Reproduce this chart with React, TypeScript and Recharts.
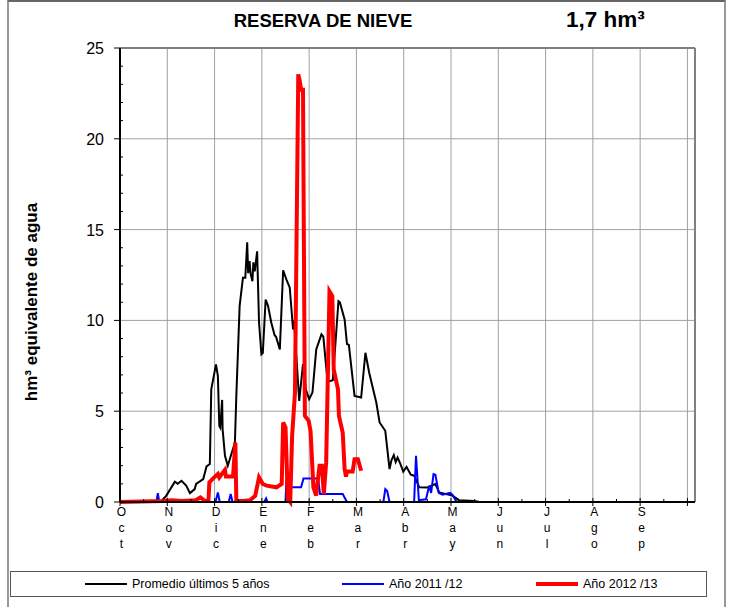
import React from "react";
import { LineChart, Line, XAxis, YAxis, CartesianGrid, ReferenceLine } from "recharts";

const meses = ["Oct", "Nov", "Dic", "Ene", "Feb", "Mar", "Abr", "May", "Jun", "Jul", "Ago", "Sep"];
const FIN = 12.16;

// x en meses desde el 1 de octubre
const promedioMes = [0, 0.86, 0.98, 1.16, 1.22, 1.3, 1.4, 1.48, 1.58, 1.61, 1.76, 1.83, 1.9, 1.93, 2.03, 2.07, 2.1, 2.12, 2.16, 2.17, 2.22, 2.28, 2.43, 2.46, 2.53, 2.6, 2.65, 2.69, 2.71, 2.74, 2.76, 2.8, 2.82, 2.85, 2.9, 2.94, 2.99, 3.02, 3.08, 3.13, 3.2, 3.27, 3.3, 3.38, 3.45, 3.52, 3.59, 3.66, 3.68, 3.79, 3.87, 3.93, 4.0, 4.07, 4.15, 4.26, 4.3, 4.39, 4.5, 4.62, 4.65, 4.75, 4.8, 4.84, 4.96, 5.1, 5.19, 5.27, 5.42, 5.49, 5.61, 5.7, 5.74, 5.79, 5.83, 5.87, 5.93, 5.99, 6.06, 6.15, 6.22, 6.33, 6.5, 6.67, 6.75, 7.03, 7.17, 7.5, 7.6, FIN];
const promedioVal = [0, 0, 0.35, 1.12, 1.0, 1.17, 0.9, 0.49, 0.71, 1.0, 1.26, 1.96, 2.09, 6.2, 7.58, 6.94, 4.19, 4.1, 5.62, 4.0, 2.54, 2.0, 3.28, 5.84, 10.8, 12.35, 12.35, 14.3, 12.6, 13.26, 12.6, 12.16, 13.2, 12.7, 13.8, 9.9, 8.13, 8.2, 11.15, 10.8, 9.87, 9.18, 9.1, 8.4, 12.76, 12.25, 11.8, 9.5, 10.0, 5.57, 7.6, 6.2, 5.66, 6.03, 8.4, 9.23, 9.1, 6.62, 6.7, 11.06, 11.0, 10.05, 8.7, 8.65, 5.84, 5.75, 8.22, 7.12, 5.48, 4.38, 3.92, 1.81, 2.3, 2.58, 2.2, 2.45, 2.1, 1.67, 1.93, 1.5, 1.45, 0.81, 0.8, 0.99, 0.53, 0.35, 0.1, 0.05, 0, 0];

const ano1112Mes = [0, 0.77, 0.8, 0.83, 2.02, 2.07, 2.11, 2.3, 2.34, 2.38, 3.05, 3.09, 3.12, 3.5, 3.52, 3.55, 3.66, 3.83, 3.88, 4.19, 4.23, 4.71, 4.8, 5.57, 5.61, 5.65, 5.7, 6.22, 6.26, 6.32, 6.47, 6.54, 6.58, 6.63, 6.67, 6.74, 6.82, 6.98, 7.03, 7.12, FIN];
const ano1112Val = [0, 0, 0.48, 0, 0, 0.53, 0, 0, 0.44, 0, 0, 0.2, 0, 0, 1.3, 0.8, 0.81, 0.81, 1.3, 1.3, 0.44, 0.44, 0, 0, 0.71, 0.6, 0, 0, 2.54, 0.1, 0.15, 0.9, 0.5, 1.54, 1.5, 0.5, 0.4, 0.5, 0.4, 0, 0];

const ano1213Mes = [0, 0.9, 1.1, 1.3, 1.6, 1.7, 1.8, 1.87, 1.89, 1.97, 2.07, 2.1, 2.22, 2.24, 2.39, 2.44, 2.46, 2.6, 2.75, 2.86, 2.94, 3.02, 3.1, 3.31, 3.42, 3.45, 3.5, 3.55, 3.6, 3.64, 3.7, 3.77, 3.8, 3.83, 3.87, 3.91, 3.99, 4.03, 4.09, 4.15, 4.17, 4.22, 4.27, 4.31, 4.36, 4.43, 4.49, 4.52, 4.61, 4.63, 4.71, 4.75, 4.78, 4.8, 4.92, 4.96, 5.03, 5.1];
const ano1213Val = [0, 0.05, 0.1, 0.05, 0.1, 0.25, 0.05, 0.05, 1.08, 1.3, 1.54, 1.35, 1.77, 1.4, 1.4, 3.28, 0.05, 0.05, 0.1, 0.35, 1.36, 0.99, 0.9, 0.81, 1.0, 4.38, 4.1, 0.16, 0, 3.64, 6.0, 23.55, 23.2, 22.7, 22.7, 4.74, 4.47, 3.9, 0.81, 0.35, 0.9, 2.0, 2.0, 0.44, 2.18, 11.6, 11.34, 7.3, 6.2, 4.74, 3.83, 1.81, 1.4, 1.68, 1.68, 2.36, 2.36, 1.72];

const toPoints = (xs: number[], ys: number[]) => xs.map((x, i) => ({ x, v: ys[i] }));

const series = [
    { name: "Promedio últimos 5 años", color: "#000000", width: 2, data: toPoints(promedioMes, promedioVal) },
    { name: "Año 2011 /12", color: "#0000ff", width: 2, data: toPoints(ano1112Mes, ano1112Val) },
    { name: "Año 2012 /13", color: "#ff0000", width: 4, data: toPoints(ano1213Mes, ano1213Val) },
];

const FONT = "'Liberation Sans', Arial, sans-serif";

const xTicks = meses.flatMap((_, i) => [i, i + 0.5]).concat(12);
const yAllTicks = Array.from({ length: 26 }, (_, i) => i);

const MesTick = ({ x, y, payload }: any) => {
    const v = payload.value as number;
    const i = Math.round(v);
    const entero = Math.abs(v - i) < 1e-6;
    return (
        <g>
            {entero ? (
                <line x1={x} x2={x} y1={y - 4} y2={y + 4} stroke="#000" />
            ) : (
                <line x1={x} x2={x} y1={y - 3} y2={y} stroke="#000" />
            )}
            {entero && i < 12 &&
                meses[i].split("").map((c, k) => (
                    <text key={k} x={x + 1.5} y={y + 14 + k * 16} textAnchor="middle" fontSize={12} fontFamily={FONT} fill="#000">
                        {c}
                    </text>
                ))}
        </g>
    );
};

const ValorTick = ({ x, y, payload }: any) => {
    const v = payload.value as number;
    const mayor = v % 5 === 0;
    return (
        <g>
            {mayor ? (
                <>
                    <line x1={x - 6} x2={x} y1={y} y2={y} stroke="#000" />
                    <text x={x - 16} y={y + 6} textAnchor="end" fontSize={16} fontFamily={FONT} fill="#000">
                        {v}
                    </text>
                </>
            ) : (
                <line x1={x} x2={x + 3} y1={y} y2={y} stroke="#000" />
            )}
        </g>
    );
};

export default function App() {
    return (
        <div style={{ position: "absolute", left: 0, top: 0, width: 732, height: 607, background: "#fff", overflow: "hidden", fontFamily: FONT }}>
            <div style={{ position: "absolute", left: 7, top: 0, width: 719, height: 620, borderLeft: "2px solid #999", borderTop: "2px solid #666", borderRight: "2px solid #999", boxSizing: "border-box" }} />
            <div style={{ position: "absolute", left: 0, width: 646, top: 10, textAlign: "center", fontWeight: "bold", fontSize: 18.5 }}>
                RESERVA DE NIEVE
            </div>
            <div style={{ position: "absolute", left: 566, top: 7, fontWeight: "bold", fontSize: 22.5 }}>
                1,7 hm³
            </div>
            <div style={{ position: "absolute", left: 32, top: 302, transform: "translate(-50%, -50%) rotate(-90deg)", whiteSpace: "nowrap", fontWeight: "bold", fontSize: 17 }}>
                hm³ equivalente de agua
            </div>
            <div style={{ position: "absolute", left: 0, top: 0 }}>
                <LineChart width={732} height={607} margin={{ top: 48, right: 37, left: 0, bottom: 45 }}>
                    <CartesianGrid
                        stroke="#a0a0a0"
                        horizontalValues={[5, 10, 15, 20]}
                        verticalValues={[1, 2, 3, 4, 5, 6, 7, 8, 9, 10, 11, 12]}
                    />
                    <XAxis
                        type="number"
                        dataKey="x"
                        domain={[0, FIN]}
                        ticks={xTicks}
                        interval={0}
                        allowDataOverflow
                        height={60}
                        tickSize={0}
                        tickMargin={0}
                        tickLine={false}
                        axisLine={{ stroke: "#000", strokeWidth: 2 }}
                        tick={<MesTick />}
                    />
                    <YAxis
                        type="number"
                        domain={[0, 25]}
                        ticks={yAllTicks}
                        interval={0}
                        width={120}
                        tickSize={0}
                        tickMargin={0}
                        tickLine={false}
                        axisLine={{ stroke: "#000", strokeWidth: 2 }}
                        tick={<ValorTick />}
                    />
                    <ReferenceLine y={25} stroke="#808080" strokeWidth={2} />
                    <ReferenceLine x={FIN} stroke="#808080" strokeWidth={2} />
                    {series.map((s) => (
                        <Line
                            key={s.name}
                            data={s.data}
                            dataKey="v"
                            type="linear"
                            stroke={s.color}
                            strokeWidth={s.width}
                            dot={false}
                            activeDot={false}
                            isAnimationActive={false}
                        />
                    ))}
                </LineChart>
            </div>
            <div style={{ position: "absolute", left: 10, top: 571, width: 697, height: 26, border: "1.5px solid #555", boxSizing: "border-box", fontSize: 12.5 }}>
                {series.map((s, i) => (
                    <div key={s.name} style={{ position: "absolute", left: [74, 331, 525][i], top: 0, height: 23, display: "flex", alignItems: "center" }}>
                        <span style={{ display: "inline-block", width: 42, height: s.width === 4 ? 4 : 2, background: s.color, marginRight: 5 }} />
                        <span>{s.name}</span>
                    </div>
                ))}
            </div>
        </div>
    );
}
